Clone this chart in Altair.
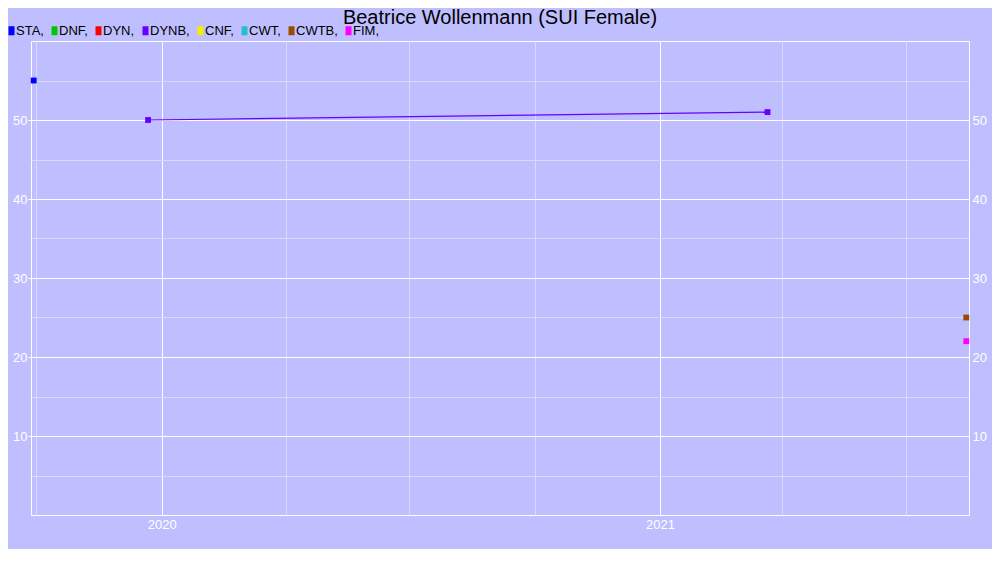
import altair as alt
import pandas as pd

# Legend categories and colours
disciplines = ["STA", "DNF", "DYN", "DYNB", "CNF", "CWT", "CWTB", "FIM"]
colors = ["#0000FF", "#00C800", "#FF0000", "#6600FF", "#F0F000", "#20C0D0", "#994C00", "#FF00FF"]

# Data points
point_disc = ["STA", "DYNB", "DYNB", "CWTB", "FIM"]
point_dates = ["2019-09-29", "2019-12-22", "2021-03-21", "2021-08-14", "2021-08-14"]
point_vals = [55, 50, 51, 25, 22]

# Axis tick values
x_range = [(2019, 9, 27), (2021, 8, 16)]
x_ticks = [(2019, 10), (2020, 1), (2020, 4), (2020, 7), (2020, 10),
           (2021, 1), (2021, 4), (2021, 7)]
y_grid = [5, 10, 15, 20, 25, 30, 35, 40, 45, 50, 55]
y_labels = [10, 20, 30, 40, 50]

df = pd.DataFrame({"discipline": point_disc, "date": point_dates, "value": point_vals})

FONT = "Liberation Sans"
BG = "#BFBFFF"
MINOR = "#D9D9FF"

x_scale = alt.Scale(type="utc",
                    domain=[alt.DateTime(year=y, month=m, date=d, utc=True) for (y, m, d) in x_range])
y_scale = alt.Scale(domain=[0, 60], nice=False, zero=False)

x_axis = alt.Axis(
    values=[alt.DateTime(year=y, month=m, date=1, utc=True) for (y, m) in x_ticks],
    labelExpr="utcmonth(datum.value) == 0 ? utcFormat(datum.value, '%Y') : ''",
    title=None, domain=False, ticks=False, labelPadding=3,
    labelColor="white", labelFont=FONT, labelFontSize=13,
    grid=True,
    gridColor={"condition": {"test": "utcmonth(datum.value) == 0", "value": "white"}, "value": MINOR},
    gridOpacity=1, gridWidth=1,
)

y_axis_left = alt.Axis(
    values=y_grid,
    labelExpr="datum.value % 10 == 0 ? datum.label : ''",
    title=None, domain=False, tickSize=3,
    tickColor={"condition": {"test": "datum.value % 10 == 0", "value": "white"}, "value": "transparent"},
    labelPadding=1, labelColor="white", labelFont=FONT, labelFontSize=13,
    grid=True,
    gridColor={"condition": {"test": "datum.value % 10 == 0", "value": "white"}, "value": MINOR},
    gridOpacity=1, gridWidth=1,
)

y_axis_right = alt.Axis(
    orient="right", values=y_labels, title=None, domain=False, tickSize=0,
    labelPadding=3, labelColor="white", labelFont=FONT, labelFontSize=13, grid=False,
)

lines = alt.Chart(df).transform_calculate(
    line_disc="datum.discipline"
).mark_line(strokeWidth=1.2, interpolate="linear").encode(
    x=alt.X("date:T", scale=x_scale, axis=x_axis),
    y=alt.Y("value:Q", scale=y_scale, axis=y_axis_left),
    stroke=alt.Stroke("line_disc:N", scale=alt.Scale(domain=disciplines, range=colors), legend=None),
    detail="line_disc:N",
)

points = alt.Chart(df).mark_square(size=34, opacity=1, filled=True).encode(
    x=alt.X("date:T", scale=x_scale, axis=x_axis),
    y=alt.Y("value:Q", scale=y_scale, axis=y_axis_right),
    color=alt.Color(
        "discipline:N",
        scale=alt.Scale(domain=disciplines, range=colors),
        legend=alt.Legend(
            orient="none", legendX=-28, legendY=-17, direction="horizontal",
            columns=8, title=None,
            symbolType="M-1,-4.5H5V4.5H-1Z", symbolSize=4,
            symbolStrokeWidth=0, symbolOpacity=1,
            labelExpr="datum.label + ','",
            labelFont=FONT, labelFontSize=13, labelColor="black",
            labelOffset=0, columnPadding=2, padding=0,
        ),
    ),
)

chart = alt.layer(lines, points).resolve_axis(y="independent").resolve_scale(
    stroke="independent", color="independent"
).properties(
    width=938,
    height=474,
    title=alt.TitleParams(
        "Beatrice Wollenmann (SUI Female)", font=FONT, fontSize=20,
        fontWeight="normal", color="black", anchor="middle", frame="group",
        offset=-4,
    ),
    autosize=alt.AutoSizeParams(type="none"),
    padding={"left": 23, "top": 33, "right": 23, "bottom": 34},
    background=BG,
).configure_view(stroke="white", strokeWidth=1, fill=BG)

chart.save("out.html", embed_options={"renderer": "svg", "actions": False})
